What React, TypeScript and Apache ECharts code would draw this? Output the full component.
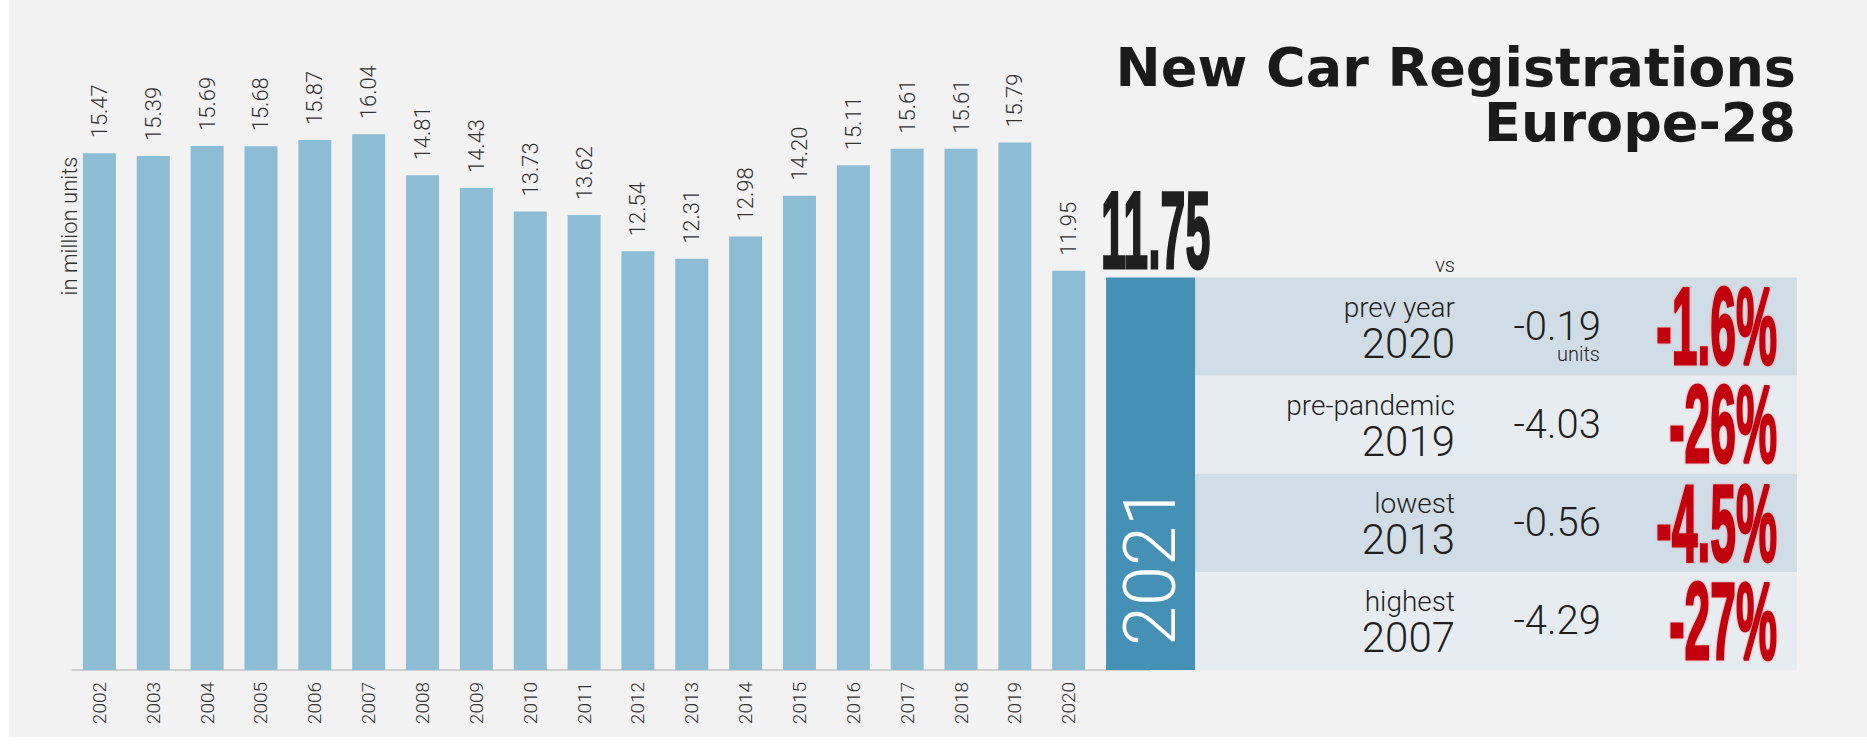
import React, { useEffect, useRef } from "react";
import * as echarts from "echarts";

// ---------- data ----------
const years = ["2002", "2003", "2004", "2005", "2006", "2007", "2008", "2009", "2010", "2011", "2012", "2013", "2014", "2015", "2016", "2017", "2018", "2019", "2020"];
const registrations = [15.47, 15.39, 15.69, 15.68, 15.87, 16.04, 14.81, 14.43, 13.73, 13.62, 12.54, 12.31, 12.98, 14.2, 15.11, 15.61, 15.61, 15.79, 11.95];
const currentYear = "2021";
const currentValue = 11.75;
const compareLabels = ["prev year", "pre-pandemic", "lowest", "highest"];
const compareYears = ["2020", "2019", "2013", "2007"];
const compareDiffs = ["-0.19", "-4.03", "-0.56", "-4.29"];
const comparePercents = ["-1.6%", "-26%", "-4.5%", "-27%"];
const titleLines = ["New Car Registrations", "Europe-28"];
const unitLabel = "in million units";
const vsLabel = "vs";
const diffUnit = "units";

// ---------- layout / style ----------
const W = 1867;
const H = 748;
const GRID_LEFT = 72.5;
const GRID_TOP = 2;
const GRID_W = 1077;
const GRID_H = 668;
const Y_MAX = 20;
const BAR_W = 33;
const WIDE_W = 89;
const TABLE_RIGHT = 1797;
const BAR_COLOR = "#8cbdd4";
const CUR_COLOR = "#4590b5";
const ROW_DARK = "#d0dde6";
const ROW_LIGHT = "#e7ecf0";
const RED = "#c3000f";
const INK = "#1f1f1f";
const LIGHT_FONT = "Roboto";
const HEAVY_FONT = '"Liberation Sans"';

export default function App() {
  const ref = useRef<HTMLDivElement | null>(null);

  useEffect(() => {
    if (!ref.current) return;
    const chart = echarts.init(ref.current, null, { renderer: "svg" });
    const categories = [...years, currentYear];

    chart.setOption({
      animation: false,
      backgroundColor: "#f2f2f2",
      textStyle: { fontFamily: LIGHT_FONT },
      grid: { left: GRID_LEFT, top: GRID_TOP, width: GRID_W, height: GRID_H, containLabel: false },
      xAxis: {
        type: "category",
        data: categories,
        axisLine: { lineStyle: { color: "#cfcfcf", width: 2 } },
        axisTick: { show: false },
        axisLabel: {
          interval: 0,
          rotate: 90,
          margin: 12,
          fontSize: 19,
          fontWeight: 300,
          fontFamily: LIGHT_FONT,
          color: "#333",
          formatter: (v: string) => (v === currentYear ? "" : v),
        },
      },
      yAxis: { type: "value", min: 0, max: Y_MAX, show: false },
      series: [
        {
          type: "bar",
          data: registrations,
          barWidth: BAR_W,
          itemStyle: { color: BAR_COLOR },
          label: {
            show: true,
            position: "top",
            rotate: 90,
            align: "left",
            verticalAlign: "middle",
            distance: 15,
            fontSize: 22,
            fontWeight: 300,
            fontFamily: LIGHT_FONT,
            color: "#333",
            formatter: (p: any) => Number(p.value).toFixed(2),
          },
        },
        {
          type: "custom",
          clip: false,
          silent: true,
          data: [[currentYear, currentValue]],
          encode: { x: 0, y: 1 },
          renderItem: (params: any, api: any) => {
            const idx = api.value(0);
            const top = api.coord([idx, api.value(1)]);
            const base = api.coord([idx, 0]);
            const left = top[0] - BAR_W / 2;
            return {
              type: "group",
              children: [
                {
                  type: "rect",
                  shape: { x: left, y: top[1], width: WIDE_W, height: base[1] - top[1] },
                  style: { fill: CUR_COLOR },
                },
                {
                  type: "text",
                  x: left + WIDE_W / 2 + 5,
                  y: top[1] - 47.5,
                  scaleX: 0.406,
                  style: {
                    text: Number(api.value(1)).toFixed(2),
                    font: `bold 110px ${HEAVY_FONT}`,
                    fill: INK,
                    stroke: INK,
                    lineWidth: 3,
                    lineJoin: "round",
                    align: "center",
                    verticalAlign: "middle",
                  },
                },
                {
                  type: "text",
                  x: left + WIDE_W / 2,
                  y: base[1] - 104,
                  rotation: Math.PI / 2,
                  style: {
                    text: currentYear,
                    font: `300 72px ${LIGHT_FONT}`,
                    fill: "#ffffff",
                    align: "center",
                    verticalAlign: "middle",
                  },
                },
              ],
            };
          },
        },
      ],
    });

    // table geometry derived from the chart's own scale
    const topPt = chart.convertToPixel({ gridIndex: 0 }, [years.length, currentValue]) as number[];
    const basePt = chart.convertToPixel({ gridIndex: 0 }, [years.length, 0]) as number[];
    const tableLeft = topPt[0] - BAR_W / 2 + WIDE_W;
    const tableTop = topPt[1];
    const rowH = (basePt[1] - topPt[1]) / compareLabels.length;

    const graphics: any[] = [];
    compareLabels.forEach((lab, i) => {
      const T = tableTop + i * rowH;
      graphics.push({
        type: "rect",
        shape: { x: tableLeft, y: T, width: TABLE_RIGHT - tableLeft, height: rowH },
        style: { fill: i % 2 === 0 ? ROW_DARK : ROW_LIGHT },
        z: 1,
      });
      graphics.push({
        type: "text",
        x: 1455,
        y: T + 29.5,
        z: 5,
        style: { text: lab, font: `300 28px ${LIGHT_FONT}`, fill: INK, align: "right", verticalAlign: "middle" },
      });
      graphics.push({
        type: "text",
        x: 1455,
        y: T + 66,
        z: 5,
        style: { text: compareYears[i], font: `300 42px ${LIGHT_FONT}`, fill: INK, align: "right", verticalAlign: "middle" },
      });
      graphics.push({
        type: "text",
        x: 1601,
        y: T + 49,
        z: 5,
        style: { text: compareDiffs[i], font: `300 40px ${LIGHT_FONT}`, fill: INK, align: "right", verticalAlign: "middle" },
      });
      if (i === 0) {
        graphics.push({
          type: "text",
          x: 1600,
          y: T + 76,
          z: 5,
          style: { text: diffUnit, font: `300 20px ${LIGHT_FONT}`, fill: INK, align: "right", verticalAlign: "middle" },
        });
      }
      graphics.push({
        type: "text",
        x: 1777,
        y: T + 49,
        z: 5,
        scaleX: 0.42,
        style: {
          text: comparePercents[i],
          font: `bold 110px ${HEAVY_FONT}`,
          fill: RED,
          stroke: RED,
          lineWidth: 3,
          lineJoin: "round",
          align: "right",
          verticalAlign: "middle",
          textShadowColor: "rgba(255,90,90,0.55)",
          textShadowBlur: 2,
        },
      });
    });

    graphics.push({
      type: "text",
      x: 1455,
      y: tableTop - 12.5,
      z: 5,
      style: { text: vsLabel, font: `300 20px ${LIGHT_FONT}`, fill: INK, align: "right", verticalAlign: "middle" },
    });
    graphics.push({
      type: "text",
      x: 1796,
      y: 67,
      z: 5,
      style: { text: titleLines[0], font: 'bold 54px "DejaVu Sans"', fill: "#1a1a1a", align: "right", verticalAlign: "middle" },
    });
    graphics.push({
      type: "text",
      x: 1796,
      y: 122,
      z: 5,
      style: { text: titleLines[1], font: 'bold 54px "DejaVu Sans"', fill: "#1a1a1a", align: "right", verticalAlign: "middle" },
    });
    graphics.push({
      type: "text",
      x: 69,
      y: 226,
      rotation: Math.PI / 2,
      z: 5,
      style: { text: unitLabel, font: `300 22px ${LIGHT_FONT}`, fill: "#333", align: "center", verticalAlign: "middle" },
    });
    // white page margins around the grey card
    graphics.push({ type: "rect", z: 50, shape: { x: 0, y: 0, width: 9, height: H }, style: { fill: "#ffffff" } });
    graphics.push({ type: "rect", z: 50, shape: { x: 0, y: 737, width: W, height: H - 737 }, style: { fill: "#ffffff" } });

    chart.setOption({ graphic: graphics });

    return () => chart.dispose();
  }, []);

  return <div ref={ref} style={{ position: "absolute", left: 0, top: 0, width: W, height: H }} />;
}
